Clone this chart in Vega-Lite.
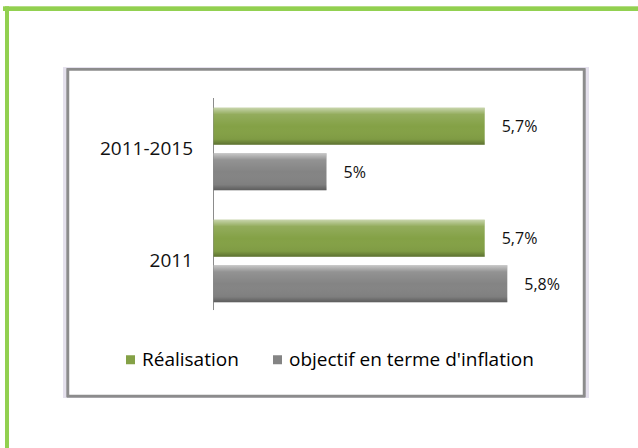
{
  "$schema": "https://vega.github.io/schema/vega-lite/v6.json",
  "width": 638,
  "height": 448,
  "padding": 0,
  "autosize": {"type": "none"},
  "background": "white",
  "config": {"view": {"stroke": null}, "font": "Open Sans"},
  "data": {
    "values": [
      {"period": "2011-2015", "series": "Réalisation", "value": 5.7, "label": "5,7%"},
      {"period": "2011-2015", "series": "objectif en terme d'inflation", "value": 5.0, "label": "5%"},
      {"period": "2011", "series": "Réalisation", "value": 5.7, "label": "5,7%"},
      {"period": "2011", "series": "objectif en terme d'inflation", "value": 5.8, "label": "5,8%"}
    ]
  },
  "layer": [
    {
      "layer": [
        {
          "mark": {"type": "rule", "color": "#92d050", "strokeWidth": 4},
          "encoding": {
            "x": {"datum": 3.5686, "type": "quantitative", "scale": {"domain": [3.5553, 6.3783], "zero": false, "nice": false}, "axis": null},
            "x2": {"datum": 6.3783},
            "y": {"datum": 0.0194, "type": "quantitative", "scale": {"domain": [0, 1], "reverse": true, "zero": false, "nice": false}, "axis": null}
          }
        },
        {
          "mark": {"type": "rule", "color": "#92d050", "strokeWidth": 4},
          "encoding": {
            "x": {"datum": 3.5863, "type": "quantitative"},
            "y": {"datum": 0.0149, "type": "quantitative"},
            "y2": {"datum": 1}
          }
        },
        {
          "mark": {"type": "rect", "fill": "#e4e0ec"},
          "encoding": {
            "x": {"datum": 3.8341, "type": "quantitative"},
            "x2": {"datum": 6.1615},
            "y": {"datum": 0.1507, "type": "quantitative"},
            "y2": {"datum": 0.8884}
          }
        },
        {
          "mark": {"type": "rect", "fill": "white", "stroke": "#8c8c8c", "strokeWidth": 2.5},
          "encoding": {
            "x": {"datum": 3.8562, "type": "quantitative"},
            "x2": {"datum": 6.1394},
            "y": {"datum": 0.1551, "type": "quantitative"},
            "y2": {"datum": 0.8839}
          }
        },
        {
          "mark": {"type": "rule", "color": "#8c8c8c", "strokeWidth": 1},
          "encoding": {
            "x": {"datum": 4.5, "type": "quantitative"},
            "y": {"datum": 0.21875, "type": "quantitative"},
            "y2": {"datum": 0.692}
          }
        }
      ]
    },
    {
      "layer": [
        {
          "mark": {"type": "bar"},
          "encoding": {
            "x": {"field": "value", "type": "quantitative", "scale": {"domain": [3.5553, 6.3783], "zero": false, "nice": false}, "axis": null},
            "x2": {"datum": 4.5},
            "y": {
              "field": "period", "type": "nominal",
              "scale": {"domain": ["2011-2015", "2011"], "paddingInner": 0, "paddingOuter": 1.1132, "align": 0.41525},
              "axis": {"title": null, "orient": "left", "offset": -213.5, "zindex": 2, "domain": false, "ticks": false, "grid": false, "labelPadding": 21, "labelFontSize": 19, "labelFont": "Open Sans", "labelColor": "#111111"}
            },
            "yOffset": {"field": "series", "type": "nominal", "scale": {"domain": ["Réalisation", "objectif en terme d'inflation"], "paddingInner": 0.186, "paddingOuter": 0.326}},
            "color": {
              "field": "series", "type": "nominal",
              "scale": {"domain": ["Réalisation", "objectif en terme d'inflation"], "range": ["#84a146", "#848484"]},
              "legend": {"title": null, "orient": "none", "legendX": 121, "legendY": 350, "direction": "horizontal", "symbolType": "square", "symbolSize": 81, "symbolStrokeWidth": 0, "labelFontSize": 19, "labelFont": "Open Sans", "labelColor": "#000000", "labelOffset": 2, "labelLimit": 500, "columnPadding": 29, "padding": 0, "zindex": 2}
            }
          }
        },
        {
          "mark": {
            "type": "bar",
            "fill": {"gradient": "linear", "x1": 0, "y1": 0, "x2": 0, "y2": 1, "stops": [
              {"offset": 0, "color": "rgba(255,255,255,0.55)"},
              {"offset": 0.18, "color": "rgba(255,255,255,0.12)"},
              {"offset": 0.5, "color": "rgba(255,255,255,0)"},
              {"offset": 0.85, "color": "rgba(0,0,0,0.04)"},
              {"offset": 1, "color": "rgba(0,0,0,0.3)"}
            ]}
          },
          "encoding": {
            "x": {"field": "value", "type": "quantitative"},
            "x2": {"datum": 4.5},
            "y": {"field": "period", "type": "nominal"},
            "yOffset": {"field": "series", "type": "nominal"}
          }
        },
        {
          "mark": {"type": "text", "align": "left", "baseline": "middle", "dx": 17, "dy": 1, "fontSize": 16, "font": "Open Sans", "color": "#111111"},
          "encoding": {
            "x": {"field": "value", "type": "quantitative"},
            "y": {"field": "period", "type": "nominal"},
            "yOffset": {"field": "series", "type": "nominal"},
            "text": {"field": "label"}
          }
        }
      ]
    }
  ],
  "resolve": {"scale": {"x": "independent", "y": "independent"}, "axis": {"x": "independent", "y": "independent"}}
}
